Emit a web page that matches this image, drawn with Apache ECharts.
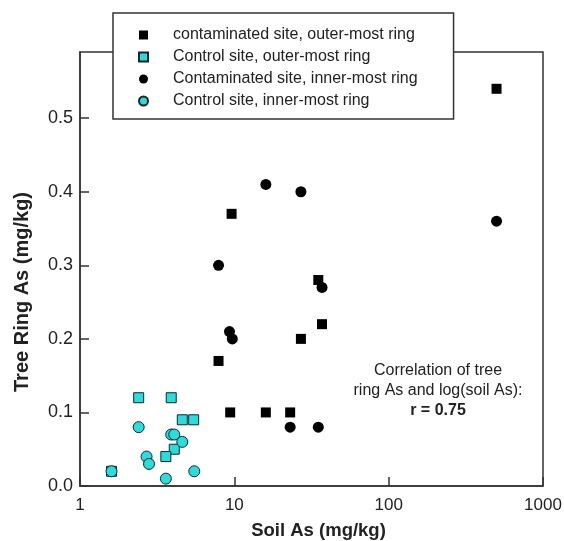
<!DOCTYPE html>
<html>
<head>
<meta charset="utf-8">
<script src="https://cdn.jsdelivr.net/npm/echarts@6/dist/echarts.min.js"></script>
<style>
  html, body { margin: 0; padding: 0; background: #fff; }
  #chart { width: 564px; height: 541px; }
</style>
</head>
<body>
<div id="chart"></div>
<script>
// soil As (mg/kg) vs tree ring As (mg/kg)

var seriesNames = [
    'contaminated site, outer-most ring',
    'Control site, outer-most ring',
    'Contaminated site, inner-most ring',
    'Control site, inner-most ring'
];

var contamOuter = [[7.9, 0.17], [9.4, 0.10], [9.6, 0.37], [16, 0.10], [23, 0.10],
    [27, 0.20], [35, 0.28], [37, 0.22], [500, 0.54]];
var controlOuter = [[1.6, 0.02], [2.4, 0.12], [3.9, 0.12], [4.6, 0.09], [5.45, 0.09],
    [4.08, 0.05], [3.6, 0.04]];
var contamInner = [[7.9, 0.30], [9.3, 0.21], [9.7, 0.20], [16, 0.41], [23, 0.08],
    [27, 0.40], [35, 0.08], [37, 0.27], [500, 0.36]];
var controlInner = [[1.6, 0.02], [2.4, 0.08], [2.7, 0.04], [2.8, 0.03], [3.9, 0.07],
    [4.08, 0.07], [4.6, 0.06], [3.6, 0.01], [5.5, 0.02]];

var xTicks = [1, 10, 100, 1000];
var yTicks = [0, 0.1, 0.2, 0.3, 0.4, 0.5];

var chart = echarts.init(document.getElementById('chart'), null, {renderer: 'canvas'});

var font = '"Liberation Sans", Arial, Helvetica, sans-serif';
var cyan = '#22e0e0';

option = {
    backgroundColor: '#fff',
    textStyle: {fontFamily: font},
    animation: false,
    grid: {
        left: 80, right: 21, top: 52, bottom: 55,
        outerBoundsMode: 'none',
        containLabel: false,
        show: true,
        borderColor: '#333',
        borderWidth: 1.5
    },
    legend: {
        orient: 'vertical',
        left: 113,
        top: 13,
        padding: [14, 36, 10, 25],
        itemGap: 6,
        itemWidth: 9,
        itemHeight: 9,
        backgroundColor: '#fff',
        borderColor: '#333',
        borderWidth: 1.5,
        z: 10,
        textStyle: {fontSize: 16, color: '#222', fontFamily: font, padding: [0, 0, 0, 20], lineHeight: 15},
        data: [
            {name: seriesNames[0], icon: 'rect'},
            {name: seriesNames[1], icon: 'rect'},
            {name: seriesNames[2], icon: 'circle'},
            {name: seriesNames[3], icon: 'circle'}
        ]
    },
    xAxis: {
        type: 'log',
        logBase: 10,
        min: xTicks[0],
        max: xTicks[xTicks.length - 1],
        name: 'Soil As (mg/kg)',
        nameLocation: 'middle',
        nameGap: 35,
        nameTextStyle: {fontSize: 18.5, fontWeight: 'bold', color: '#222', fontFamily: font, padding: [0, 0, 0, 14]},
        axisLine: {lineStyle: {color: '#333', width: 1.5}},
        axisTick: {inside: true, length: 9, lineStyle: {color: '#333', width: 1.5}},
        minorTick: {show: false},
        splitLine: {show: false},
        axisLabel: {
            fontSize: 17, color: '#222', margin: 11, fontFamily: font,
            formatter: function (v) { return String(Math.round(v)); }
        }
    },
    yAxis: {
        type: 'value',
        min: 0,
        max: 0.59,
        interval: 0.1,
        axisLine: {show: true, lineStyle: {color: '#333', width: 1.5}},
        axisTick: {show: true, inside: true, length: 9, lineStyle: {color: '#333', width: 1.5}},
        splitLine: {show: false},
        axisLabel: {
            fontSize: 18, color: '#222', margin: 7, fontFamily: font,
            showMaxLabel: false,
            formatter: function (v) {
                return yTicks.indexOf(Math.round(v * 10) / 10) >= 0 ? v.toFixed(1) : '';
            }
        }
    },
    graphic: [
        {
            type: 'text',
            x: 22, y: 292,
            rotation: Math.PI / 2,
            style: {
                text: 'Tree Ring As (mg/kg)',
                font: 'bold 20px ' + font,
                fill: '#222',
                align: 'center',
                verticalAlign: 'middle'
            }
        },
        {
            type: 'text',
            x: 438, y: 361,
            style: {
                text: 'Correlation of tree\nring As and log(soil As):',
                font: '16px ' + font,
                lineHeight: 20,
                fill: '#222',
                align: 'center',
                verticalAlign: 'top'
            }
        },
        {
            type: 'text',
            x: 438, y: 403,
            style: {
                text: 'r = 0.75',
                font: 'bold 16px ' + font,
                fill: '#222',
                align: 'center',
                verticalAlign: 'top'
            }
        }
    ],
    series: [
        {
            name: seriesNames[0],
            type: 'scatter',
            symbol: 'rect',
            symbolSize: 10,
            itemStyle: {color: '#000', opacity: 1},
            data: contamOuter
        },
        {
            name: seriesNames[1],
            type: 'scatter',
            symbol: 'rect',
            symbolSize: 10,
            itemStyle: {color: cyan, borderColor: '#222', borderWidth: 1, opacity: 1},
            data: controlOuter
        },
        {
            name: seriesNames[2],
            type: 'scatter',
            symbol: 'circle',
            symbolSize: 11,
            itemStyle: {color: '#000', opacity: 1},
            data: contamInner
        },
        {
            name: seriesNames[3],
            type: 'scatter',
            symbol: 'circle',
            symbolSize: 11,
            itemStyle: {color: cyan, borderColor: '#222', borderWidth: 1, opacity: 1},
            data: controlInner
        }
    ]
};
chart.setOption(option);
</script>
</body>
</html>
